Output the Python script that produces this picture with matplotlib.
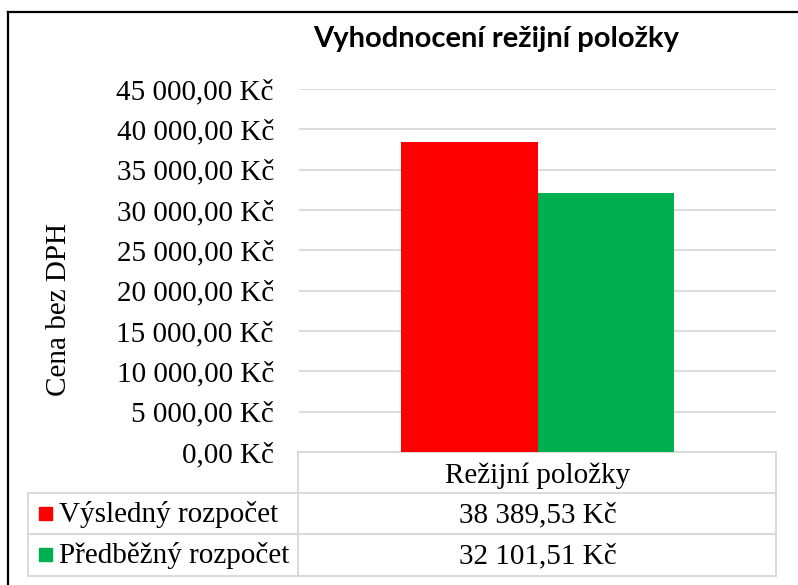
import numpy as np
import matplotlib
matplotlib.use("Agg")
import matplotlib.pyplot as plt
from matplotlib.ticker import FuncFormatter, MultipleLocator
from matplotlib.patches import Rectangle
from matplotlib.lines import Line2D

plt.rcParams["font.family"] = ["Liberation Serif", "DejaVu Serif"]

title = "Vyhodnocení režijní položky"
category = "Režijní položky"
series = ["Výsledný rozpočet", "Předběžný rozpočet"]
values = [38389.53, 32101.51]
colors = ["#ff0000", "#00b050"]
ylabel = "Cena bez DPH"
ymax = 45000
ystep = 5000

fs = 21


def kc(v, pos=None):
    s = f"{v:,.2f}".replace(",", " ").replace(".", ",")
    return s + " Kč"


W, H = 798, 585
fig = plt.figure(figsize=(W / 100, H / 100), dpi=100)
fig.patch.set_facecolor("white")

# overlay in pixel coordinates for frame + data table
ov = fig.add_axes([0, 0, 1, 1], zorder=0)
ov.set_xlim(0, W)
ov.set_ylim(H, 0)
ov.axis("off")

# plot area
x0, x1, y0, y1 = 299, 776, 452, 89
ax = fig.add_axes([x0 / W, 1 - y0 / H, (x1 - x0) / W, (y0 - y1) / H], zorder=1)
ax.patch.set_alpha(0)
bw = 0.286
xs = np.array([-bw / 2, bw / 2])
ax.bar(xs, values, width=bw, color=colors, zorder=2)
ax.set_xlim(-0.5, 0.5)
ax.set_ylim(0, ymax)
ax.yaxis.set_major_locator(MultipleLocator(ystep))
ax.yaxis.set_major_formatter(FuncFormatter(kc))
ax.grid(axis="y", color="#d9d9d9", linewidth=1.3, zorder=0)
ax.set_axisbelow(True)
for s in ax.spines.values():
    s.set_visible(False)
ax.tick_params(axis="y", length=0, pad=18, labelsize=fs, labelcolor="#000000")
ax.set_xticks([])

# outer frame (cut off at right and bottom)
ov.add_line(Line2D([8, W + 5], [12, 12], color="#000000", lw=1.6))
ov.add_line(Line2D([8, 8], [12, H + 5], color="#000000", lw=1.6))

# title and axis label
fig.text(496 / W, 1 - 47 / H, title, ha="center", va="baseline",
         fontsize=21, fontweight="bold", family=["Lato", "DejaVu Sans"])
fig.text(59 / W, 1 - 310 / H, ylabel, rotation=90, ha="center", va="center",
         fontsize=fs)

# data table
gc = "#d9d9d9"
lw = 1.4
rows = [452, 493, 534, 576]
ov.add_line(Line2D([x0 - 1, x1], [rows[0], rows[0]], color=gc, lw=lw))
for r in rows[1:]:
    ov.add_line(Line2D([28, x1], [r, r], color=gc, lw=lw))
ov.add_line(Line2D([x0 - 1, x0 - 1], [rows[0], rows[-1]], color=gc, lw=lw))
ov.add_line(Line2D([x1, x1], [rows[0], rows[-1]], color=gc, lw=lw))
ov.add_line(Line2D([28, 28], [rows[1], rows[-1]], color=gc, lw=lw))

cx = (x0 + x1) / 2
ov.text(cx, 483, category, ha="center", va="baseline", fontsize=fs)
for i, (name, v, c) in enumerate(zip(series, values, colors)):
    base = rows[i + 1] + 29
    ov.add_patch(Rectangle((39, base - 15), 13, 13, color=c))
    ov.text(59, base, name, ha="left", va="baseline", fontsize=fs)
    ov.text(cx, base, kc(v), ha="center", va="baseline", fontsize=fs)

fig.savefig("out.png", dpi=100, facecolor="white")
